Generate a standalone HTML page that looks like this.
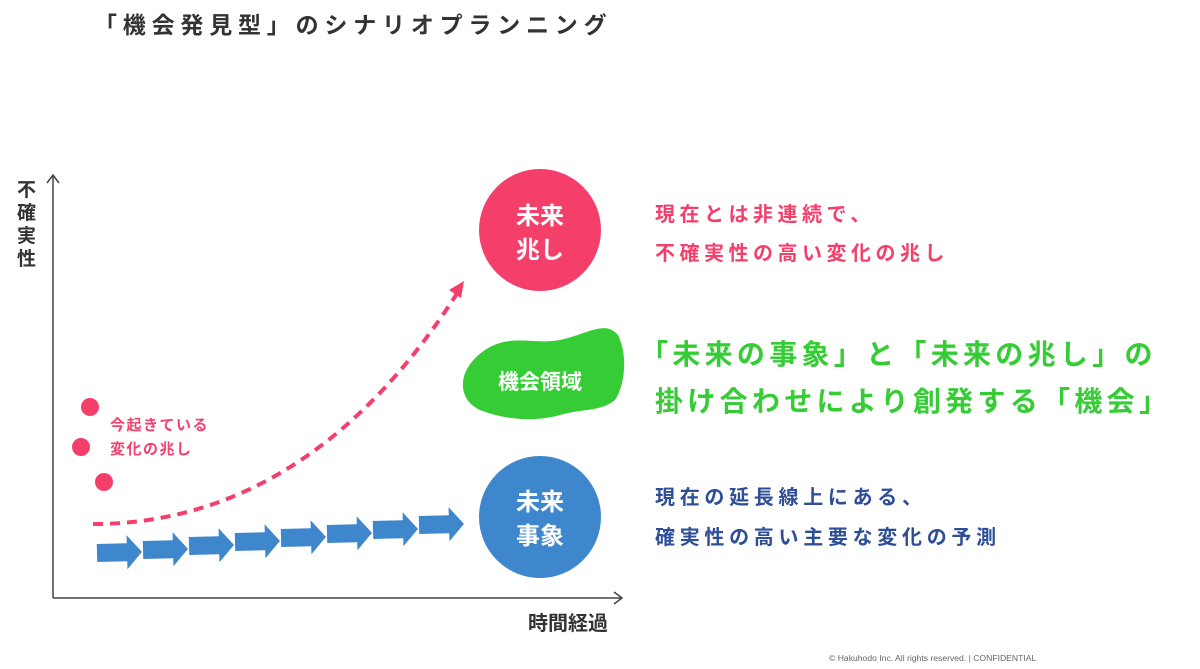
<!DOCTYPE html>
<html><head><meta charset="utf-8"><style>
html,body{margin:0;padding:0;background:#fff;}
svg{display:block;}
text{font-family:"Liberation Sans","Noto Sans CJK JP",sans-serif;}
</style></head><body>
<svg width="1200" height="669" viewBox="0 0 1200 669" xmlns="http://www.w3.org/2000/svg">
<text x="94" y="33" font-size="23" font-weight="bold" fill="#333" letter-spacing="5.8">「機会発見型」のシナリオプランニング</text>
<g stroke="#444" stroke-width="1.5" fill="none">
<line x1="53" y1="175" x2="53" y2="598"/>
<polyline points="47,183 53,175 59,183"/>
<line x1="53" y1="598" x2="622" y2="598"/>
<polyline points="614,592 622,598 614,604"/>
</g>
<g font-size="19" font-weight="bold" fill="#333">
<text x="17" y="196">不</text><text x="17" y="219">確</text><text x="17" y="242">実</text><text x="17" y="265">性</text>
<text x="528" y="630" font-size="20">時間経過</text>
</g>
<path d="M93,524 C250,524 370,430 458,292" fill="none" stroke="#f43f6b" stroke-width="4" stroke-dasharray="10,7"/>
<polygon points="464,281 449,290 461,298" fill="#f43f6b"/>
<g fill="#f43f6b"><circle cx="90" cy="407" r="9"/><circle cx="81" cy="447" r="9"/><circle cx="104" cy="482" r="9"/></g>
<g font-size="15" font-weight="bold" fill="#f43f6b"><text x="110" y="430" letter-spacing="1.5">今起きている</text><text x="110" y="454" letter-spacing="1.5">変化の兆し</text></g>
<g fill="#3f87cc">
<g transform="translate(97,553) rotate(-1.5)"><polygon points="0,-9 30,-9 30,-17 45,0 30,17 30,9 0,9"/></g>
<g transform="translate(143,550) rotate(-1.5)"><polygon points="0,-9 30,-9 30,-17 45,0 30,17 30,9 0,9"/></g>
<g transform="translate(189,546) rotate(-1.5)"><polygon points="0,-9 30,-9 30,-17 45,0 30,17 30,9 0,9"/></g>
<g transform="translate(235,542) rotate(-1.5)"><polygon points="0,-9 30,-9 30,-17 45,0 30,17 30,9 0,9"/></g>
<g transform="translate(281,538) rotate(-1.5)"><polygon points="0,-9 30,-9 30,-17 45,0 30,17 30,9 0,9"/></g>
<g transform="translate(327,534) rotate(-1.5)"><polygon points="0,-9 30,-9 30,-17 45,0 30,17 30,9 0,9"/></g>
<g transform="translate(373,530) rotate(-1.5)"><polygon points="0,-9 30,-9 30,-17 45,0 30,17 30,9 0,9"/></g>
<g transform="translate(419,525) rotate(-1.5)"><polygon points="0,-9 30,-9 30,-17 45,0 30,17 30,9 0,9"/></g>
</g>
<circle cx="540" cy="230" r="61" fill="#f43f6b"/>
<circle cx="540" cy="517" r="61" fill="#3f87cc"/>
<g font-size="24" font-weight="bold" fill="#fff" text-anchor="middle">
<text x="540" y="224">未来</text><text x="540" y="258">兆し</text>
<text x="540" y="510">未来</text><text x="540" y="544">事象</text>
</g>
<path d="M485,350 C510,333 535,345 560,340 C590,333 605,320 618,335 C628,355 625,385 615,400 C600,412 585,408 560,415 C535,422 505,420 480,410 C455,398 458,368 485,350 Z" fill="#35cc35"/>
<text x="540" y="389" font-size="21" font-weight="bold" fill="#fff" text-anchor="middle">機会領域</text>
<g font-size="20" font-weight="bold" fill="#f43f6b" letter-spacing="4.5"><text x="655" y="221">現在とは非連続で、</text><text x="655" y="260">不確実性の高い変化の兆し</text></g>
<g font-size="28" font-weight="bold" fill="#35cc35" letter-spacing="4.3"><text x="640" y="364">「未来の事象」と「未来の兆し」の</text><text x="655" y="411">掛け合わせにより創発する「機会」</text></g>
<g font-size="20" font-weight="bold" fill="#2e4f96" letter-spacing="4.7"><text x="655" y="504">現在の延長線上にある、</text><text x="655" y="544">確実性の高い主要な変化の予測</text></g>
<text x="829" y="661" font-size="8.6" fill="#666">© Hakuhodo Inc. All rights reserved. | CONFIDENTIAL</text>
</svg>
</body></html>
